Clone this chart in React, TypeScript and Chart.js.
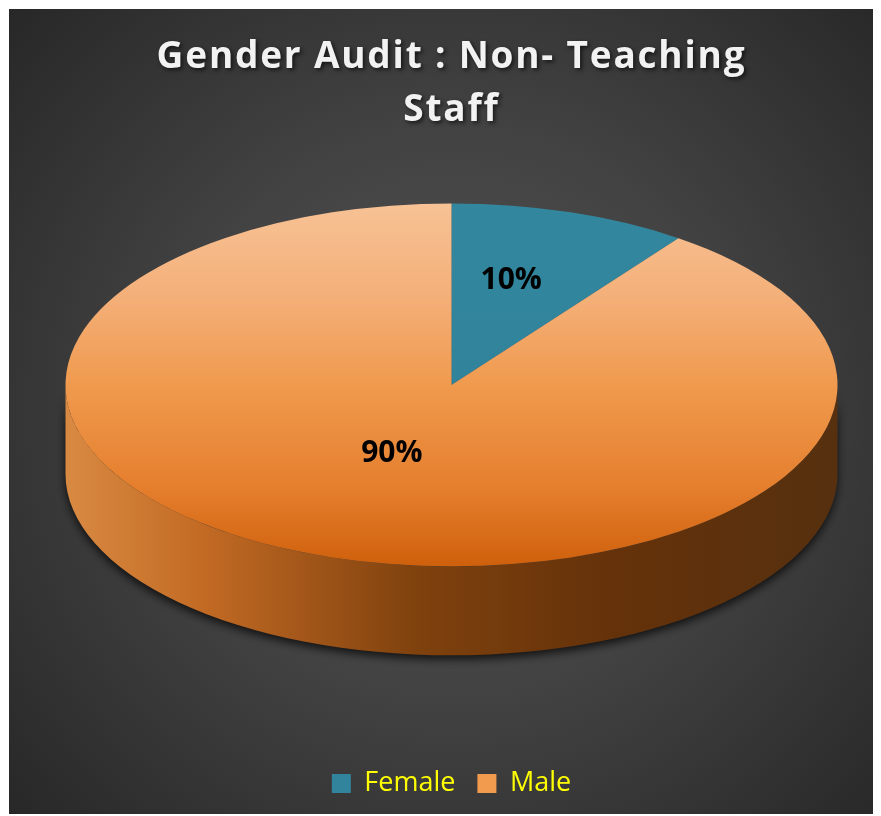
import React, { useEffect, useRef } from 'react';
import { Chart, registerables } from 'chart.js';

Chart.register(...registerables);

// ---- data ----
const categories = ['Female', 'Male'];
const values = [10, 90];
const titleLines = ['Gender Audit : Non- Teaching', 'Staff'];

// ---- styles ----
const legendColors = ['#31849B', '#F29A4D'];
const topStops: [number, string][][] = [
  [[0, '#32879E'], [1, '#2E7F96']],
  [[0, '#F7C295'], [0.25, '#F4B07A'], [0.5, '#F09A4E'], [0.78, '#E57F2E'], [1, '#CF600C']],
];
const sideStops: [number, string][][] = [
  [[0, '#2A7286'], [1, '#143A45']],
  [[0, '#D98A42'], [0.18, '#C26A24'], [0.45, '#80420E'], [0.7, '#65320A'], [1, '#56300F']],
];
const RADIUS = 386;
const TILT = 0.47;
const DEPTH = 89;
const PIE_LIFT = 18;
const LABEL_FRACTION = 0.5;
const LABEL_LIFT = 18;

function pieCenter(chart: any) {
  const a = chart.chartArea;
  return { x: (a.left + a.right) / 2, y: (a.top + a.bottom) / 2 };
}

const pie3d = {
  id: 'pie3d',
  afterInit(chart: any) {
    const tb = chart.titleBlock;
    if (tb && !tb.__wrapped) {
      tb.__wrapped = true;
      const orig = tb.draw.bind(tb);
      tb.draw = function () {
        const c = chart.ctx;
        c.save();
        (c as any).letterSpacing = '1.8px';
        c.shadowColor = 'rgba(0,0,0,0.65)';
        c.shadowBlur = 4;
        c.shadowOffsetX = 2;
        c.shadowOffsetY = 2;
        orig();
        c.restore();
      };
    }
  },
  beforeDraw(chart: any) {
    const ctx = chart.ctx;
    const w = chart.width, h = chart.height;
    const g = ctx.createRadialGradient(w * 0.51, h * 0.5, 0, w * 0.51, h * 0.5, 640);
    g.addColorStop(0, '#545454');
    g.addColorStop(0.45, '#424242');
    g.addColorStop(1, '#242424');
    ctx.save();
    ctx.fillStyle = g;
    ctx.fillRect(0, 0, w, h);
    ctx.restore();
  },
  beforeDatasetsDraw(chart: any) {
    const ctx = chart.ctx;
    const meta = chart.getDatasetMeta(0);
    if (!meta || !meta.data.length) return;
    const { x, y } = meta.data[0];
    const r = meta.data[0].outerRadius;
    const ex = x;
    const ey = y - DEPTH / 2 - PIE_LIFT;
    chart.$pie3d = { x, y, ex, ey, r };
    // side walls (front half only)
    meta.data.forEach((arc: any, i: number) => {
      const s = Math.max(arc.startAngle, 0);
      const e = Math.min(arc.endAngle, Math.PI);
      if (e <= s) return;
      const g = ctx.createLinearGradient(ex - r, 0, ex + r, 0);
      sideStops[i].forEach(([o, c]) => g.addColorStop(o, c));
      ctx.save();
      ctx.beginPath();
      ctx.ellipse(ex, ey, r, r * TILT, 0, s, e, false);
      ctx.lineTo(ex + r * Math.cos(e), ey + DEPTH + r * TILT * Math.sin(e));
      ctx.ellipse(ex, ey + DEPTH, r, r * TILT, 0, e, s, true);
      ctx.closePath();
      ctx.shadowColor = 'rgba(0,0,0,0.75)';
      ctx.shadowBlur = 10;
      ctx.shadowOffsetY = 4;
      ctx.fillStyle = g;
      ctx.fill();
      ctx.restore();
    });
    ctx.save();
    ctx.translate(ex, ey);
    ctx.scale(1, TILT);
    ctx.translate(-x, -y);
  },
  afterDatasetsDraw(chart: any) {
    const ctx = chart.ctx;
    const st = chart.$pie3d;
    if (!st) return;
    ctx.restore();
    const meta = chart.getDatasetMeta(0);
    const total = values.reduce((a, b) => a + b, 0);
    ctx.save();
    ctx.font = 'bold 30px "Open Sans", sans-serif';
    ctx.fillStyle = '#000000';
    ctx.textAlign = 'center';
    ctx.textBaseline = 'middle';
    meta.data.forEach((arc: any, i: number) => {
      const mid = (arc.startAngle + arc.endAngle) / 2;
      const rr = st.r * LABEL_FRACTION;
      const px = st.ex + rr * Math.cos(mid);
      const py = st.ey + rr * TILT * Math.sin(mid) - LABEL_LIFT;
      ctx.fillText(Math.round((values[i] / total) * 100) + '%', px, py);
    });
    ctx.restore();
  },
};

export default function App() {
  const ref = useRef<HTMLCanvasElement | null>(null);
  useEffect(() => {
    if (!ref.current) return;
    const chart = new Chart(ref.current, {
      type: 'pie',
      data: {
        labels: categories,
        datasets: [
          {
            data: values,
            borderWidth: 0,
            backgroundColor: (c: any) => {
              const chart = c.chart;
              const i = c.dataIndex ?? 0;
              if (!chart.chartArea) return legendColors[i];
              const { y } = pieCenter(chart);
              const g = chart.ctx.createLinearGradient(0, y - RADIUS, 0, y + RADIUS);
              topStops[i].forEach(([o, col]) => g.addColorStop(o, col));
              return g;
            },
          },
        ],
      },
      options: {
        responsive: false,
        animation: false,
        events: [],
        radius: RADIUS,
        layout: { padding: { left: 14, bottom: 8 } },
        plugins: {
          title: {
            display: true,
            text: titleLines,
            color: '#F2F2F2',
            font: { family: '"Open Sans", sans-serif', size: 37, weight: 'bold', lineHeight: 1.43 },
            padding: { top: 22, bottom: 10 },
          },
          legend: {
            display: true,
            position: 'bottom',
            labels: {
              color: '#FFFF00',
              font: { family: '"Open Sans", sans-serif', size: 27 },
              boxWidth: 19,
              boxHeight: 19,
              padding: 22,
              generateLabels: (chart: any) =>
                categories.map((label, i) => ({
                  text: label,
                  fillStyle: legendColors[i],
                  strokeStyle: legendColors[i],
                  lineWidth: 0,
                  hidden: false,
                  index: i,
                  fontColor: '#FFFF00',
                })),
            },
          },
          tooltip: { enabled: false },
        },
      } as any,
      plugins: [pie3d],
    });
    return () => chart.destroy();
  }, []);
  return (
    <canvas
      ref={ref}
      width={871}
      height={806}
      style={{ display: 'block', position: 'relative', left: 1, top: 1, width: 871, height: 806 }}
    />
  );
}
